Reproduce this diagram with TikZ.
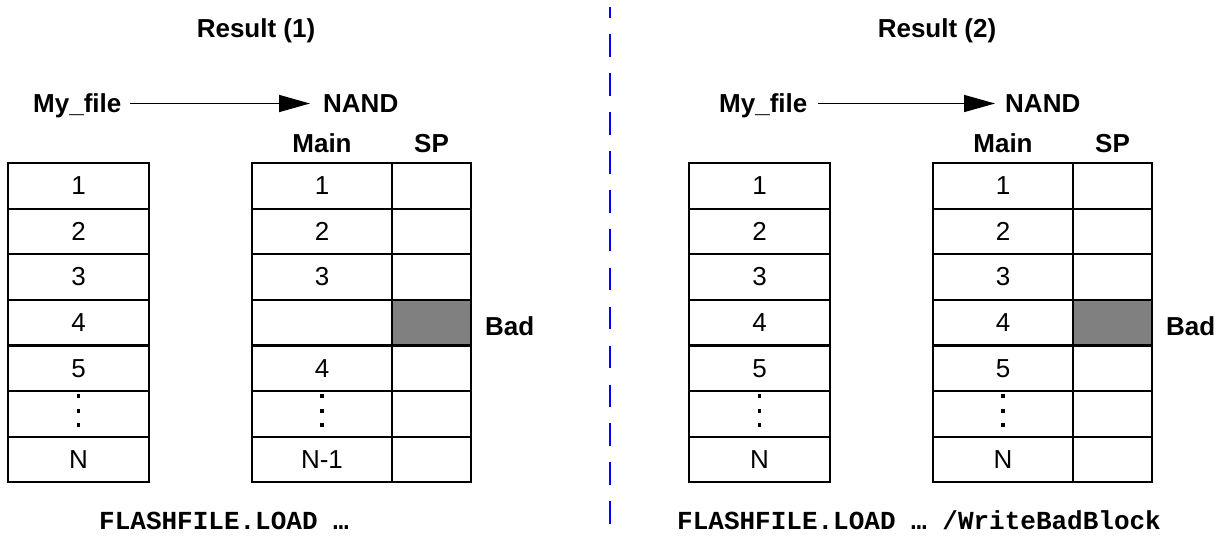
\documentclass[tikz,border=0pt]{standalone}
\usepackage{fontspec}
\setmainfont{Liberation Sans}
\setmonofont{Liberation Mono}
\usetikzlibrary{arrows.meta, positioning}
\definecolor{badgray}{RGB}{128,128,128}
\definecolor{sepblue}{RGB}{0,0,255}
\tikzset{
  cell/.style={
    rectangle, draw=black, line width=2.2pt, outer sep=0pt, inner sep=0pt,
    minimum height=45.6pt, font=\fontsize{26}{30}\selectfont
  },
  filecell/.style={cell, minimum width=141pt},
  maincell/.style={cell, minimum width=140pt},
  spcell/.style={cell, minimum width=79pt},
  badcell/.style={spcell, fill=badgray},
  lbl/.style={inner sep=0pt, text height=18.6pt, text depth=0pt, font=\bfseries\fontsize{26}{30}\selectfont},
  cmd/.style={inner sep=0pt, anchor=base west, font=\ttfamily\bfseries\fontsize{26}{30}\selectfont},
  flow/.style={-{Triangle[length=31pt, width=17pt]}, line width=1.6pt},
  divider/.style={draw=sepblue, line width=2pt, dash pattern=on 22.5pt off 16.4pt, dash phase=11.5pt}
}

\begin{document}
\begin{tikzpicture}[x=1pt, y=-1pt]
    \useasboundingbox (0,0) rectangle (1225,539);

    % result (1)
    \node[lbl, anchor=south] (res1) at (256,38) {Result (1)};
    \node[lbl, anchor=south west] (src1) at (33,113) {My\_file};
    \node[lbl, anchor=south west] (nand1) at (323,113) {NAND};
    \draw[flow, shorten <=8pt, shorten >=13pt] (src1) -- (nand1);

    \node[filecell] (f1-1) at (78.5,185.8) {1};
    \foreach \r/\t [remember=\r as \p (initially 1)] in {2/2,3/3,4/4,5/5,6/{},7/N}
      \node[filecell, below=0pt of f1-\p] (f1-\r) {\t};

    \node[maincell] (m1-1) at (322,185.8) {1};
    \node[spcell, right=0pt of m1-1] (s1-1) {};
    \foreach \r/\t/\s [remember=\r as \p (initially 1)] in
      {2/2/spcell,3/3/spcell,4/{}/badcell,5/4/spcell,6/{}/spcell,7/N-1/spcell}{
      \node[maincell, below=0pt of m1-\p] (m1-\r) {\t};
      \node[\s, right=0pt of m1-\r] (s1-\r) {};
    }
    \node[lbl, above=10pt of m1-1] (mainh1) {Main};
    \node[lbl, above=10pt of s1-1] (sph1) {SP};
    \node[lbl, right=14pt of s1-4, yshift=-4pt] (bad1) {Bad};

    % result (2)
    \node[lbl, anchor=south] (res2) at (937,38) {Result (2)};
    \node[lbl, anchor=south west] (src2) at (719,113) {My\_file};
    \node[lbl, anchor=south west] (nand2) at (1005,113) {NAND};
    \draw[flow, shorten <=10pt, shorten >=10pt] (src2) -- (nand2);

    \node[filecell] (f2-1) at (759.5,185.8) {1};
    \foreach \r/\t [remember=\r as \p (initially 1)] in {2/2,3/3,4/4,5/5,6/{},7/N}
      \node[filecell, below=0pt of f2-\p] (f2-\r) {\t};

    \node[maincell] (m2-1) at (1003,185.8) {1};
    \node[spcell, right=0pt of m2-1] (s2-1) {};
    \foreach \r/\t/\s [remember=\r as \p (initially 1)] in
      {2/2/spcell,3/3/spcell,4/4/badcell,5/5/spcell,6/{}/spcell,7/N/spcell}{
      \node[maincell, below=0pt of m2-\p] (m2-\r) {\t};
      \node[\s, right=0pt of m2-\r] (s2-\r) {};
    }
    \node[lbl, above=10pt of m2-1] (mainh2) {Main};
    \node[lbl, above=10pt of s2-1] (sph2) {SP};
    \node[lbl, right=14pt of s2-4, yshift=-4pt] (bad2) {Bad};

    % vertical dots
    \foreach \c in {f1-6,m1-6,f2-6,m2-6}
      \foreach \d in {-14.5,0,14.5}
        \fill ([shift={(-1.8,\d-4.9)}]\c.center) rectangle ++(3.6,3.8);

    % commands
    \node[cmd] (cmd1) at (99,529) {FLASHFILE.LOAD …};
    \node[cmd] (cmd2) at (677,529) {FLASHFILE.LOAD … /WriteBadBlock};

    \draw[divider] (610,7) -- (610,524);
\end{tikzpicture}
\end{document}
